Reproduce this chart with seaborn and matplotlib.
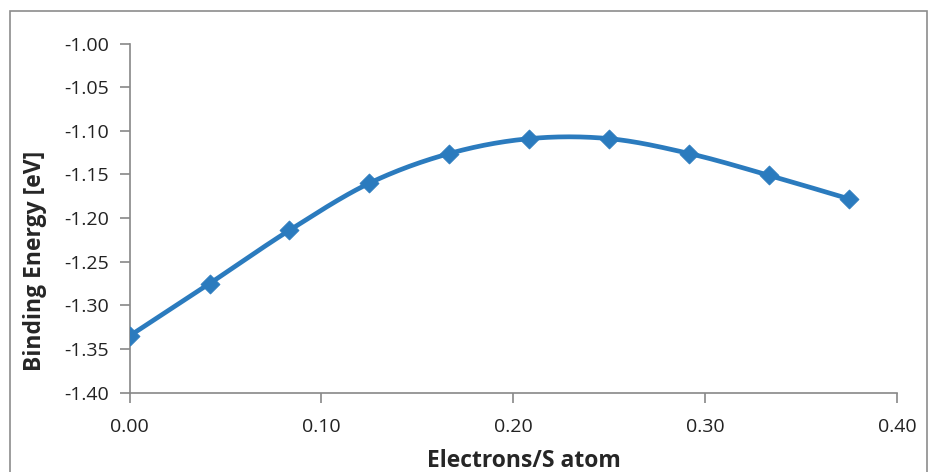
import numpy as np
import pandas as pd
import matplotlib
matplotlib.use("Agg")
import matplotlib.pyplot as plt
import seaborn as sns
from matplotlib.patches import Rectangle

# Data
electrons = [0.0, 0.0417, 0.0833, 0.125, 0.1667, 0.2083, 0.25, 0.2917, 0.3333, 0.375]
energy = [-1.335, -1.275, -1.214, -1.160, -1.126, -1.109, -1.109, -1.126, -1.151, -1.178]
x_ticks = [0.0, 0.1, 0.2, 0.3, 0.4]
y_ticks = [-1.40, -1.35, -1.30, -1.25, -1.20, -1.15, -1.10, -1.05, -1.00]

sns.set_theme(style="white")
plt.rcParams['font.family'] = ['Open Sans', 'DejaVu Sans']

color = "#2B7BBE"
gray = "#888888"

# Excel-like smoothed line (Catmull-Rom spline through the data points)
def catmull_rom(xs, ys, n=30):
    xs = np.asarray(xs, float); ys = np.asarray(ys, float)
    px = np.concatenate([[2 * xs[0] - xs[1]], xs, [2 * xs[-1] - xs[-2]]])
    py = np.concatenate([[2 * ys[0] - ys[1]], ys, [2 * ys[-1] - ys[-2]]])
    outx, outy = [], []
    for i in range(1, len(px) - 2):
        t = np.linspace(0, 1, n, endpoint=(i == len(px) - 3))
        for arr, out in ((px, outx), (py, outy)):
            p0, p1, p2, p3 = arr[i - 1], arr[i], arr[i + 1], arr[i + 2]
            out.extend(0.5 * ((2 * p1) + (-p0 + p2) * t + (2 * p0 - 5 * p1 + 4 * p2 - p3) * t ** 2
                              + (-p0 + 3 * p1 - 3 * p2 + p3) * t ** 3))
    return np.array(outx), np.array(outy)

sx, sy = catmull_rom(electrons, energy)
smooth = pd.DataFrame({"x": sx, "y": sy, "order": np.arange(len(sx))})
pts = pd.DataFrame({"x": electrons, "y": energy})

fig = plt.figure(figsize=(9.29, 4.72), dpi=100)
ax = fig.add_axes([0.1394, 0.168, 0.8262, 0.7398])

sns.lineplot(data=smooth, x="x", y="y", ax=ax, color=color, linewidth=3.4, sort=False, estimator=None)
sns.scatterplot(data=pts, x="x", y="y", ax=ax, color=color, marker="D", s=95, edgecolor=color, linewidth=0.5, zorder=3)

ax.set_xlim(0, 0.4)
ax.set_ylim(-1.40, -1.00)
ax.set_xticks(x_ticks)
ax.set_yticks(y_ticks)
ax.set_xticklabels([f"{v:.2f}" for v in x_ticks])
ax.set_yticklabels([f"{v:.2f}" for v in y_ticks])

for s in ["top", "right"]:
    ax.spines[s].set_visible(False)
for s in ["left", "bottom"]:
    ax.spines[s].set_color(gray)
    ax.spines[s].set_linewidth(1.2)

ax.tick_params(axis="both", direction="out", length=7, width=1.2, color=gray,
               labelsize=14, labelcolor="#222222", bottom=True, left=True)
ax.tick_params(axis="x", pad=11)
ax.tick_params(axis="y", pad=8)

ax.set_xlabel("Electrons/S atom", fontsize=16.5, fontweight="bold")
ax.set_ylabel("Binding Energy [eV]", fontsize=16.5, fontweight="bold")
ax.xaxis.set_label_coords(0.514, -0.161)
ax.yaxis.set_label_coords(-0.108, 0.377)

# outer chart border
fig.patches.append(Rectangle((10 / 929, -0.05), (927 - 10) / 929, 1 - 11 / 472 + 0.05,
                             transform=fig.transFigure, fill=False, edgecolor="#8c8c8c",
                             linewidth=1.2))

fig.savefig("out.png", dpi=100)
